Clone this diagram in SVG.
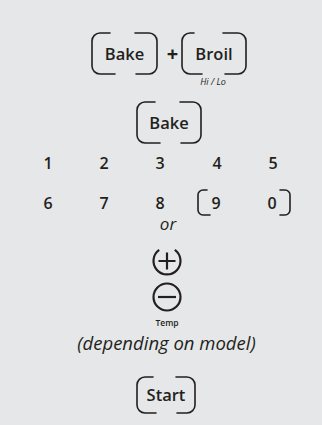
<svg xmlns="http://www.w3.org/2000/svg" width="322" height="425" viewBox="0 0 322 425">
<style>
.bg{fill:#e6e7e8}
.btn{fill:none;stroke:#231f20;stroke-width:1.6;stroke-linecap:round}
.t{font-family:"Open Sans","Liberation Sans",sans-serif;fill:#231f20;text-anchor:middle}
.lbl{font-size:16.5px;font-weight:600}
.num{font-size:16px;font-weight:600}
.it{font-style:italic}
.sym{fill:none;stroke:#231f20;stroke-width:2.2}
</style>
<rect class="bg" x="0" y="0" width="322" height="425"/>
<g id="bake-btn-1">
<path class="btn" d="M110 33 H100 A8 8 0 0 0 92 41 V66 A8 8 0 0 0 100 74 H115"/>
<path class="btn" d="M135 33 H149 A8 8 0 0 1 157 41 V66 A8 8 0 0 1 149 74 H136"/>
<text class="t lbl" x="124.5" y="60">Bake</text>
</g>
<g id="plus-sign">
<text class="t" x="172.5" y="61" font-size="20" font-weight="700">+</text>
</g>
<g id="broil-btn">
<path class="btn" d="M194 33 H190 A8 8 0 0 0 182 41 V66 A8 8 0 0 0 190 74 H202"/>
<path class="btn" d="M223 33 H238 A8 8 0 0 1 246 41 V66 A8 8 0 0 1 238 74 H225"/>
<text class="t lbl" x="214" y="60">Broil</text>
<text class="t it" x="213" y="85" font-size="9">Hi / Lo</text>
</g>
<g id="bake-btn-2">
<path class="btn" d="M155 102 H145 A8 8 0 0 0 137 110 V135 A8 8 0 0 0 145 143 H160"/>
<path class="btn" d="M180 102 H193 A8 8 0 0 1 201 110 V135 A8 8 0 0 1 193 143 H181"/>
<text class="t lbl" x="169" y="129">Bake</text>
</g>
<g id="keypad">
<text class="t num" x="48" y="169">1</text>
<text class="t num" x="104" y="169">2</text>
<text class="t num" x="160" y="169">3</text>
<text class="t num" x="217" y="169">4</text>
<text class="t num" x="273" y="169">5</text>
<text class="t num" x="48" y="209">6</text>
<text class="t num" x="104" y="209">7</text>
<text class="t num" x="160" y="209">8</text>
<text class="t num" x="216" y="209">9</text>
<text class="t num" x="272" y="209">0</text>
</g>
<g id="bracket-9-0">
<path class="btn" d="M207 190 H203 A5 5 0 0 0 198 195 V210 A5 5 0 0 0 203 215 H210"/>
<path class="btn" d="M280 190 H285 A5 5 0 0 1 290 195 V210 A5 5 0 0 1 285 215 H280"/>
</g>
<text class="t it" x="168" y="230" font-size="17">or</text>
<g id="temp-up">
<path class="sym" d="M159.2 249.9 A13.5 13.5 0 1 0 174.8 249.9"/>
<path class="sym" d="M167 252.5 V269.5 M158.5 261 H175.5"/>
</g>
<g id="temp-down">
<circle class="sym" cx="167" cy="297" r="13.5"/>
<path class="sym" d="M158 297 H176"/>
<text class="t" x="167" y="325.5" font-size="8.5" font-weight="600">Temp</text>
</g>
<text class="t it" x="166.5" y="350" font-size="18.5">(depending on model)</text>
<g id="start-btn">
<path class="btn" d="M153 377 H145 A8 8 0 0 0 137 385 V405 A8 8 0 0 0 145 413 H156"/>
<path class="btn" d="M176 377 H187 A8 8 0 0 1 195 385 V405 A8 8 0 0 1 187 413 H177"/>
<text class="t lbl" x="166" y="401">Start</text>
</g>
</svg>
